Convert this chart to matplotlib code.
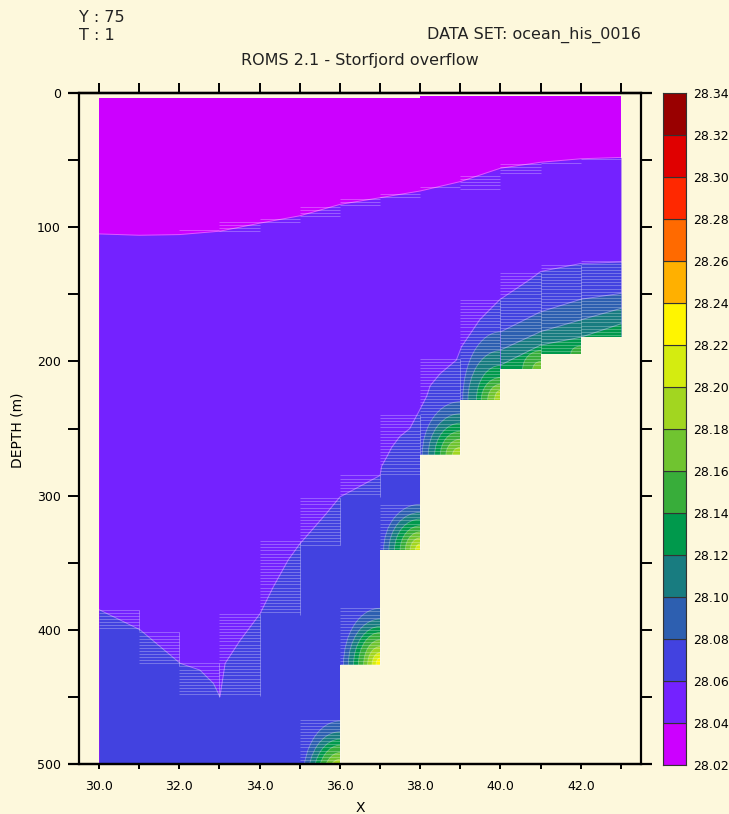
#!/usr/bin/env python3
"""Storfjord overflow section: density layers over a stepped bottom."""
import matplotlib
matplotlib.use("Agg")
import matplotlib.pyplot as plt
import numpy as np
from matplotlib.patches import Ellipse, Rectangle

BG = "#fdf8dc"

# colour scale (28.02 .. 28.34, step 0.02)
levels = [28.02, 28.04, 28.06, 28.08, 28.10, 28.12, 28.14, 28.16, 28.18,
          28.20, 28.22, 28.24, 28.26, 28.28, 28.30, 28.32, 28.34]
band_colors = ["#cc00ff", "#7422ff", "#4242e0", "#2d5fb0", "#187c80", "#00994c",
               "#38ad3a", "#70c430", "#a2d620", "#d4ec10", "#fff500", "#ffb000",
               "#ff6a00", "#ff2800", "#e00000", "#990000"]

# model columns (x edges) and surface / bottom depth of each column (m)
col_edges = [30, 31, 32, 33, 34, 35, 36, 37, 38, 39, 40, 41, 42, 43]
col_top = [3.5, 3.5, 3.5, 3.5, 3.5, 3.5, 3.5, 3.5, 2.0, 2.0, 2.0, 2.0, 2.0]
col_bottom = [600, 600, 600, 600, 600, 510, 426, 340.5, 270, 229, 206, 194.5, 182]

# 28.04 isopycnal (magenta / purple)
iso_2804_x = [30, 31, 32, 33, 34, 35, 36, 37, 38, 39, 40, 41, 42, 43]
iso_2804_d = [105, 106, 105.5, 103, 97, 91.5, 83, 78, 73, 66, 56, 51.6, 49, 48]

# 28.06 isopycnal (purple / blue)
iso_2806_x = [30.0, 31.02, 32.02, 32.51, 32.85, 33.01, 33.14, 33.51, 34.01, 34.34,
              34.71, 35.0, 35.67, 36.0, 36.5, 37.0, 37.04, 37.17, 37.29, 37.49,
              37.74, 37.99, 38.16, 38.25, 38.5, 38.9, 39.03, 39.48, 39.98, 40.73,
              41.0, 42.0, 43.0]
iso_2806_d = [385, 400, 425, 430, 440, 450, 425, 408, 388, 368,
              348, 336, 313, 301, 293, 285, 278, 271, 264, 256,
              250, 236, 226, 218, 209, 199, 189, 169, 154, 139,
              133, 127, 126]

# dense bottom layers on the shallow steps
iso_deep_x = [40, 41, 42, 43]
iso_2808_d = [178, 163, 153.7, 149.3]
iso_2810_d = [191.5, 177.8, 169, 160.5]
iso_2812_d = [202.7, 187.8, 182, 172]

# pools of dense water in the step corners: corner x, corner depth,
# first colour band, half widths (x units) and half heights (m)
ring_x = [36, 37, 38, 39, 40, 41, 42]
ring_d = [510, 426, 340.5, 270, 229, 206, 194.5]
ring_first = [3, 3, 3, 3, 3, 6, 6]
ring_rx = [[0.91, 0.79, 0.66, 0.54, 0.41, 0.31, 0.20, 0.10],
           [0.91, 0.79, 0.66, 0.54, 0.41, 0.31, 0.20, 0.10],
           [0.91, 0.78, 0.64, 0.50, 0.37, 0.25, 0.12],
           [0.95, 0.80, 0.64, 0.50, 0.36, 0.20],
           [0.94, 0.81, 0.60, 0.48, 0.32, 0.15],
           [0.45, 0.20],
           [0.25]]
ring_rz = [[42, 34, 28.5, 24, 18.5, 13.5, 9, 5],
           [42, 34, 28.5, 24, 18.5, 13.5, 9, 5],
           [34, 28, 23, 18, 13.5, 9, 4.5],
           [40, 31, 24, 18, 12, 6],
           [51, 37, 26, 17, 12, 7.5],
           [14, 6],
           [6]]

# cells crossed by contour lines (column left edge, top, bottom depth)
hatch_col = [32, 33, 34, 35, 36, 37, 38, 39, 40, 41, 42,
             30, 31, 32, 33, 34, 35, 36, 37, 38, 39, 40, 41, 42,
             35, 36, 37]
hatch_top = [102, 96, 94, 85, 79, 75, 70, 62, 53, 52, 49,
             385, 402, 425, 388, 334, 302, 285, 240, 198, 154, 134, 128, 125,
             467, 384, 307]
hatch_bot = [104, 103, 98, 92, 85, 79, 72, 72, 60, 54, 51,
             401, 427, 450, 449, 389, 337, 301, 285, 270, 229, 206, 194.5, 182,
             500, 426, 340]

W, H = 729, 814
fig = plt.figure(figsize=(W / 100, H / 100), dpi=100)
fig.patch.set_facecolor(BG)
ax = fig.add_axes([79 / W, 50 / H, 562 / W, 671 / H])
ax.set_facecolor(BG)

edges = np.asarray(col_edges, dtype=float)
top = np.append(col_top, col_top[-1])

ax.fill_between(edges, top, 520, step="post", color=band_colors[0], lw=0)
ax.fill_between(iso_2804_x, iso_2804_d, 520, color=band_colors[1], lw=0)
ax.fill_between(iso_2806_x, iso_2806_d, 520, color=band_colors[2], lw=0)
ax.fill_between(iso_deep_x, iso_2808_d, 520, color=band_colors[3], lw=0)
ax.fill_between(iso_deep_x, iso_2810_d, 520, color=band_colors[4], lw=0)
ax.fill_between(iso_deep_x, iso_2812_d, 520, color=band_colors[5], lw=0)

line_kw = dict(color=(1, 1, 1, 0.35), lw=0.7)
for xs, ds in [(iso_2804_x, iso_2804_d), (iso_2806_x, iso_2806_d),
               (iso_deep_x, iso_2808_d), (iso_deep_x, iso_2810_d),
               (iso_deep_x, iso_2812_d)]:
    ax.plot(xs, ds, **line_kw)

for cx, cd, first, rxs, rzs in zip(ring_x, ring_d, ring_first, ring_rx, ring_rz):
    clip = Rectangle((cx - 1, 0), 1, min(cd, 500), transform=ax.transData)
    for k, (rx, rz) in enumerate(zip(rxs, rzs)):
        ell = Ellipse((cx, cd), 2 * rx, 2 * rz, facecolor=band_colors[first + k],
                      edgecolor=(1, 1, 1, 0.3), lw=0.6)
        ax.add_patch(ell)
        ell.set_clip_path(clip)

for x0, d0, d1 in zip(hatch_col, hatch_top, hatch_bot):
    ax.hlines(np.arange(d0, d1, 2.3), x0, x0 + 1, colors=[(1, 1, 1, 0.28)], lw=0.7)
    if d0 > 120:
        ax.vlines(x0 + 1, d0, min(d1, 500), colors=[(1, 1, 1, 0.3)], lw=0.7)

# land below the stepped bottom (runs a little past the last column)
mask_x = np.append(edges, 43.6)
mask_d = np.asarray(col_bottom + [col_bottom[-1], col_bottom[-1]], dtype=float)
ax.fill_between(mask_x, mask_d, 520, step="post", color=BG, lw=0)

ax.set_xlim(29.5, 43.5)
ax.set_ylim(500, 0)

for side in ax.spines.values():
    side.set_linewidth(1.6)
for yy in (0, 1):
    ax.plot([-0.02, 1.02], [yy, yy], transform=ax.transAxes, color="black",
            lw=1.6, clip_on=False, solid_capstyle="butt")

ax.set_xticks(col_edges)
ax.set_xticklabels([f"{v:.1f}" if v % 2 == 0 else "" for v in col_edges], fontsize=9)
ax.tick_params(axis="x", direction="out", length=3.6, width=1.4, pad=8)
top_ax = ax.secondary_xaxis("top")
top_ax.set_xticks(col_edges)
top_ax.set_xticklabels([])
top_ax.tick_params(direction="out", length=7.5, width=1.4)
top_ax.spines["top"].set_linewidth(1.6)

ax.set_yticks(np.arange(0, 501, 50))
ax.set_yticklabels([str(v) if v % 100 == 0 else "" for v in range(0, 501, 50)], fontsize=9)
ax.tick_params(axis="y", left=True, right=True, direction="out", length=8, width=1.4, pad=5)

fig.text(18 / W, 1 - 430 / H, "DEPTH (m)", rotation=90, ha="center", va="center", fontsize=10)
fig.text(360 / W, 1 - 808 / H, "X", ha="center", va="center", fontsize=10)

fig.text(79 / W, 1 - 17 / H, "Y : 75", ha="left", va="center", fontsize=11.5, color="#222222")
fig.text(79 / W, 1 - 35 / H, "T : 1", ha="left", va="center", fontsize=11.5, color="#222222")
fig.text(641 / W, 1 - 35 / H, "DATA SET: ocean_his_0016", ha="right", va="center",
         fontsize=11.5, color="#222222")
fig.text(360 / W, 1 - 60 / H, "ROMS 2.1 - Storfjord overflow", ha="center", va="center",
         fontsize=11.5, color="#222222")

# colour key
cax = fig.add_axes([663 / W, 49 / H, 23 / W, 672 / H])
cax.set_facecolor(BG)
cax.bar(0.5, np.diff(levels), bottom=levels[:-1], width=1.0, color=band_colors,
        edgecolor="#333333", linewidth=0.8, align="center")
cax.set_xlim(0, 1)
cax.set_ylim(levels[0], levels[-1])
cax.set_xticks([])
cax.yaxis.tick_right()
cax.set_yticks(levels)
cax.set_yticklabels([f"{v:.2f}" for v in levels], fontsize=9)
cax.tick_params(axis="y", length=0, pad=5)
for side in cax.spines.values():
    side.set_linewidth(0.8)
    side.set_color("#333333")

fig.savefig("out.png", dpi=100, facecolor=BG)
